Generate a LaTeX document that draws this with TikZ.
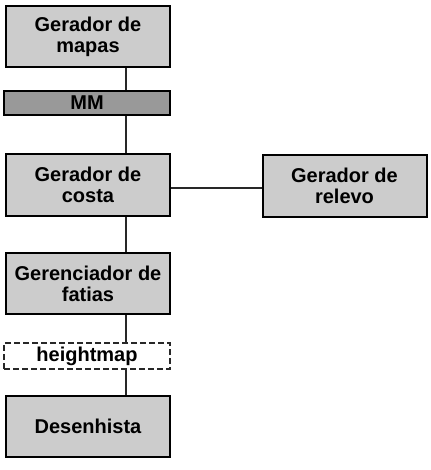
\documentclass[tikz,border=0pt]{standalone}
\usepackage{fontspec}
\setmainfont{Liberation Sans}
\usetikzlibrary{positioning}
\definecolor{boxgray}{RGB}{204,204,204}
\definecolor{mmgray}{RGB}{153,153,153}
\definecolor{linegray}{RGB}{40,40,40}

\begin{document}
\begin{tikzpicture}[
  x=1pt, y=-1pt,
  every node/.style={font=\bfseries\fontsize{20}{21}\selectfont, align=center},
  block/.style = {draw=black, line width=2pt, fill=boxgray, minimum width=164pt, minimum height=61pt, inner sep=0pt},
  band/.style = {draw=black, line width=2pt, fill=mmgray, minimum width=166pt, minimum height=24pt, inner sep=0pt},
  databand/.style = {draw=linegray, line width=1.5pt, dash pattern=on 6pt off 3pt, fill=white, minimum width=166pt, minimum height=26pt, inner sep=0pt},
  link/.style = {draw=linegray, line width=2pt}
  ]
	\useasboundingbox (0,0) rectangle (430,470);

	\coordinate (@spine) at (126,0);
	\coordinate (@cross) at (0,188);

	\node[block] (mapas) at (88,36.5) {Gerador de\\mapas};
	\node[band] (mm) at (87,103) {MM};
	\node[block] (costa) at (88,185) {Gerador de\\costa};
	\node[block] (relevo) at (344.5,186) {Gerador de\\relevo};
	\node[block] (fatias) at (88,283.5) {Gerenciador de\\fatias};
	\node[databand] (hmap) at (87,356) {heightmap};
	\node[block] (desenho) at (88,426.5) {Desenhista};

	\draw[link] (mapas.south -| @spine) -- (mm.north -| @spine);
	\draw[link] (mm.south -| @spine) -- (costa.north -| @spine);
	\draw[link] (costa.south -| @spine) -- (fatias.north -| @spine);
	\draw[link] (fatias.south -| @spine) -- (hmap.north -| @spine);
	\draw[link] (hmap.south -| @spine) -- (desenho.north -| @spine);
	\draw[link] (costa.east |- @cross) -- (relevo.west |- @cross);

\end{tikzpicture}
\end{document}
